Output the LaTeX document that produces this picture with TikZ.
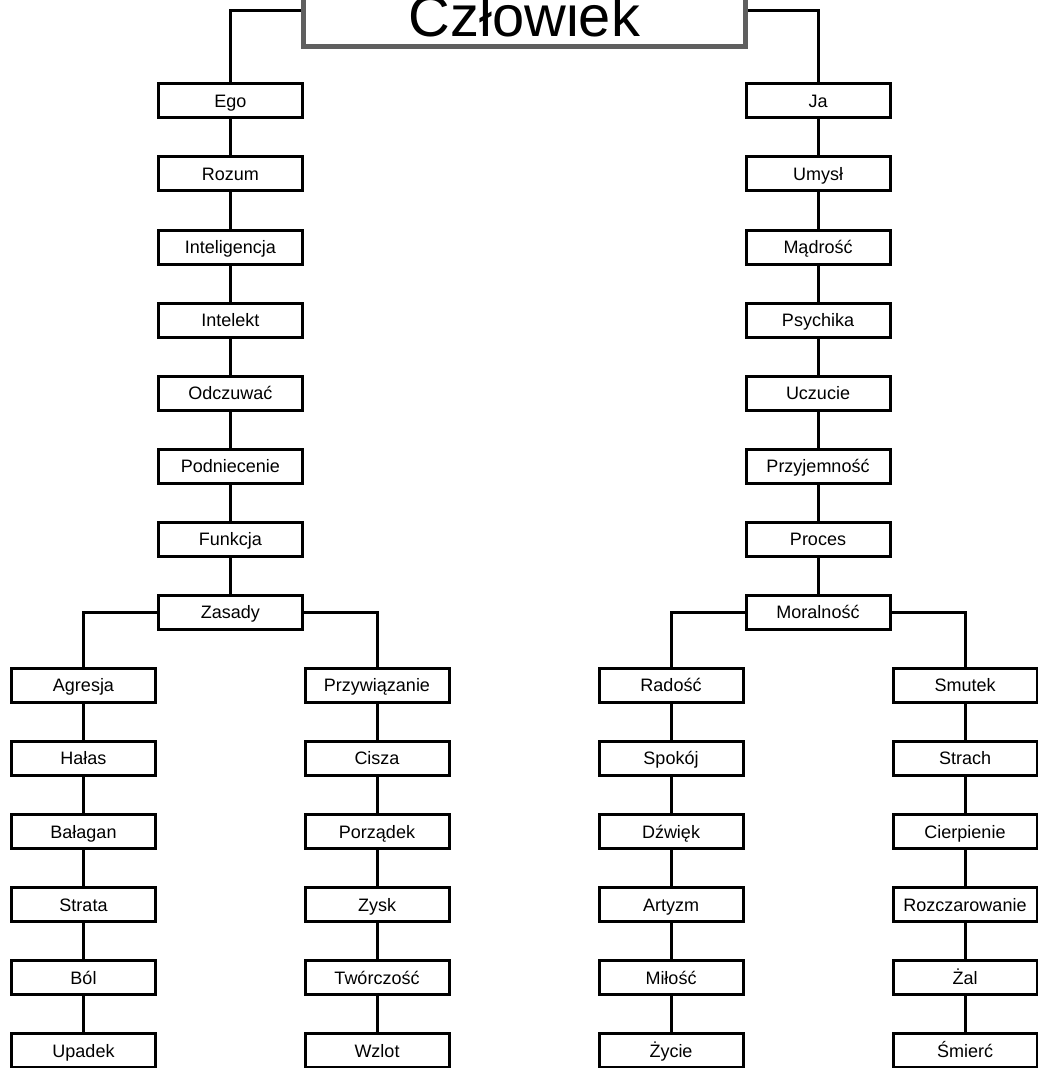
\documentclass[tikz,border=0pt]{standalone}
\usepackage{fontspec}
\setmainfont{Liberation Sans}
\definecolor{topgray}{HTML}{5F5F5F}
\begin{document}
\begin{tikzpicture}[x=1pt,y=-1pt,
  box/.style={draw=black, line width=3pt, fill=white, minimum width=144pt, minimum height=34pt,
    inner sep=0pt, font=\fontsize{18}{20}\selectfont, text height=12.9pt, text depth=0pt},
  topbox/.style={draw=topgray, line width=5pt, fill=white, minimum width=442.3pt, minimum height=73pt,
    inner sep=0pt, font=\fontsize{57.8}{60}\selectfont, text height=52pt, text depth=0pt},
  link/.style={draw=black, line width=3pt}]
\useasboundingbox (0,0) rectangle (1038,1068);

\node[topbox] (top) at (524.35,10) {Człowiek};

% main columns
\foreach \t [count=\i from 0] in {Ego,Rozum,Inteligencja,Intelekt,Odczuwać,Podniecenie,Funkcja,Zasady}
  \node[box] (l\i) at (230.4,100.9+73.07*\i) {\t};
\foreach \t [count=\i from 0] in {Ja,Umysł,Mądrość,Psychika,Uczucie,Przyjemność,Proces,Moralność}
  \node[box] (r\i) at (818,100.9+73.07*\i) {\t};
% sub columns
\foreach \t [count=\i from 0] in {Agresja,Hałas,Bałagan,Strata,Ból,Upadek}
  \node[box] (a\i) at (83.5,685.46+73.07*\i) {\t};
\foreach \t [count=\i from 0] in {Przywiązanie,Cisza,Porządek,Zysk,Twórczość,Wzlot}
  \node[box] (b\i) at (377,685.46+73.07*\i) {\t};
\foreach \t [count=\i from 0] in {Radość,Spokój,Dźwięk,Artyzm,Miłość,Życie}
  \node[box] (c\i) at (671,685.46+73.07*\i) {\t};
\foreach \t [count=\i from 0] in {Smutek,Strach,Cierpienie,Rozczarowanie,Żal,Śmierć}
  \node[box] (d\i) at (965,685.46+73.07*\i) {\t};

% connectors
\draw[link] (top.west) -| (l0.north);
\draw[link] (top.east) -| (r0.north);
\foreach \i [evaluate=\i as \j using int(\i+1)] in {0,...,6} {
  \draw[link] (l\i.south) -- (l\j.north);
  \draw[link] (r\i.south) -- (r\j.north);
}
\foreach \i [evaluate=\i as \j using int(\i+1)] in {0,...,4} {
  \draw[link] (a\i.south) -- (a\j.north);
  \draw[link] (b\i.south) -- (b\j.north);
  \draw[link] (c\i.south) -- (c\j.north);
  \draw[link] (d\i.south) -- (d\j.north);
}
\draw[link] (l7.west) -| (a0.north);
\draw[link] (l7.east) -| (b0.north);
\draw[link] (r7.west) -| (c0.north);
\draw[link] (r7.east) -| (d0.north);
\end{tikzpicture}
\end{document}
